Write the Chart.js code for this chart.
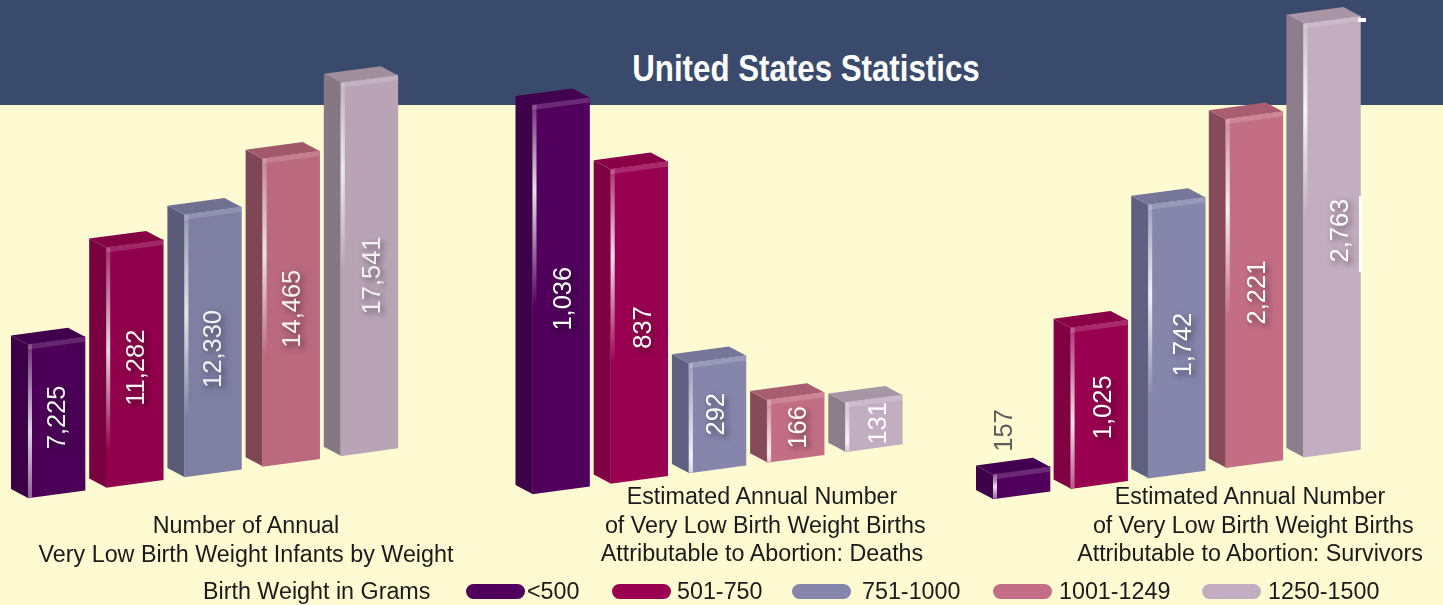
<!DOCTYPE html>
<html>
<head>
<meta charset="utf-8">
<title>United States Statistics</title>
<script src="https://cdn.jsdelivr.net/npm/chart.js@4/dist/chart.umd.min.js"></script>
<style>
  html, body { margin: 0; padding: 0; }
  body { width: 1443px; height: 605px; overflow: hidden; position: relative; background: #fefbd2;
         font-family: "Liberation Sans", Arial, sans-serif; color: #1a1a1a; }
  #band { position: absolute; left: 0; top: 0; width: 1443px; height: 105px; background: #3a4a6c; }
  #heading { position: absolute; left: 506px; top: 47px; width: 600px; text-align: center; color: #fff;
             font: bold 37px/44px "Liberation Sans", sans-serif; transform: scaleX(0.845); }
  canvas { position: absolute; left: 0; top: 0; }
  #infants { filter: brightness(0.95); }
  .caption { position: absolute; width: 500px; text-align: center; font-size: 23.3px; line-height: 28.6px; }
  .legend { position: absolute; top: 579px; font-size: 23.3px; line-height: 25px; white-space: nowrap; }
  .pill { position: absolute; top: 584px; width: 59px; height: 15px; border-radius: 8px; }
  .glitch { position: absolute; background: #fff; }
</style>
</head>
<body>
<div id="band"></div>
<div id="heading">United States Statistics</div>
<canvas id="infants" width="1443" height="605"></canvas>
<canvas id="deaths" width="1443" height="605"></canvas>
<canvas id="survivors" width="1443" height="605"></canvas>
<div class="glitch" style="left:1358px;top:18px;width:8px;height:4px"></div>
<div class="glitch" style="left:1359px;top:196px;width:3px;height:76px"></div>
<div class="caption" style="left:-4px;top:511px">Number of Annual<br>Very Low Birth Weight Infants by Weight</div>
<div class="caption" style="left:512px;top:482px">Estimated Annual Number<br>&nbsp;of Very Low Birth Weight Births<br>Attributable to Abortion: Deaths</div>
<div class="caption" style="left:1000px;top:482px">Estimated Annual Number<br>&nbsp;of Very Low Birth Weight Births<br>Attributable to Abortion: Survivors</div>
<div class="legend" style="left:203px">Birth Weight in Grams</div>
<div id="legend"></div>

<script>
const weightBands = ['<500', '501-750', '751-1000', '1001-1249', '1250-1500'];
const infantCounts = [7225, 11282, 12330, 14465, 17541];
const deathCounts = [1036, 837, 292, 166, 131];
const survivorCounts = [157, 1025, 1742, 2221, 2763];

const frontColors = ['#50005c', '#990050', '#8686ad', '#c46e85', '#c3adc0'];
const sideColors = ['#3e0049', '#7f0043', '#5f5f7f', '#864b5b', '#8c7d8b'];
const topColors = ['#430050', '#8a0048', '#76769a', '#a85d70', '#a895a5'];

const DEPTH_X = 17, DEPTH_Y = 9, BEVEL = 5, SHINE_W = 4;

// the bars are flat Chart.js bars, sheared upward, with side and top faces added around them
const bars3d = {
    id: 'bars3d',
    beforeDatasetDraw(chart, args, opts) {
        const ctx = chart.ctx;
        const els = args.meta.data;
        const x0 = els[0].x - els[0].width / 2;
        const lift = (x, y) => y - opts.slope * (x - x0);

        els.forEach((el, i) => {
            const l = el.x - el.width / 2, r = el.x + el.width / 2;
            ctx.fillStyle = sideColors[i];
            ctx.beginPath();
            ctx.moveTo(l, lift(l, el.y));
            ctx.lineTo(l, lift(l, el.base));
            ctx.lineTo(l - DEPTH_X, lift(l, el.base) - DEPTH_Y);
            ctx.lineTo(l - DEPTH_X, lift(l, el.y) - DEPTH_Y);
            ctx.closePath();
            ctx.fill();

            ctx.fillStyle = topColors[i];
            ctx.beginPath();
            ctx.moveTo(l, lift(l, el.y));
            ctx.lineTo(r, lift(r, el.y));
            ctx.lineTo(r - DEPTH_X, lift(r, el.y) - DEPTH_Y);
            ctx.lineTo(l - DEPTH_X, lift(l, el.y) - DEPTH_Y);
            ctx.closePath();
            ctx.fill();
        });

        ctx.save();
        ctx.transform(1, -opts.slope, 0, 1, 0, opts.slope * x0);
    },
    afterDatasetDraw(chart, args, opts) {
        const ctx = chart.ctx;
        const els = args.meta.data;
        const x0 = els[0].x - els[0].width / 2;

        els.forEach((el, i) => {
            const l = el.x - el.width / 2;
            ctx.fillStyle = 'rgba(255,255,255,0.16)';
            ctx.fillRect(l, el.y, el.width, BEVEL);

            // [peak, where it dies out, alpha left at that point]
            const [peak, end, tail] = opts.shine[i];
            const g = ctx.createLinearGradient(0, el.y, 0, el.base);
            g.addColorStop(0, 'rgba(255,255,255,0.2)');
            g.addColorStop(peak, 'rgba(255,255,255,0.88)');
            g.addColorStop(end, `rgba(255,255,255,${tail})`);
            g.addColorStop(1, `rgba(255,255,255,${tail})`);
            ctx.fillStyle = g;
            ctx.fillRect(l, el.y, SHINE_W, el.base - el.y);
        });
        ctx.restore();

        // value labels, turned to read upward
        const data = chart.data.datasets[0].data;
        els.forEach((el, i) => {
            const lift = y => y - opts.slope * (el.x - x0);
            const outside = opts.outside && opts.outside[i];
            const nudge = opts.nudge[i];
            ctx.save();
            if (outside) {
                ctx.translate(el.x + outside[0], lift(el.y) + outside[1]);
                ctx.fillStyle = '#5c5c5c';
            } else {
                ctx.translate(el.x + nudge[0], lift((el.y + el.base) / 2) + nudge[1]);
                ctx.fillStyle = '#fff';
                if (opts.shadow[i]) {
                    ctx.shadowColor = 'rgba(0,0,0,0.5)';
                    ctx.shadowBlur = 6;
                    ctx.shadowOffsetX = 3;
                    ctx.shadowOffsetY = 3;
                }
            }
            ctx.rotate(-Math.PI / 2);
            ctx.font = '25.5px "Liberation Sans", Arial, sans-serif';
            ctx.textAlign = 'center';
            ctx.textBaseline = 'middle';
            ctx.fillText(data[i].toLocaleString('en-US'), 0, 0);
            ctx.restore();
        });
    }
};

function initChart(canvasId, data, cfg) {
    new Chart(document.getElementById(canvasId), {
        type: 'bar',
        data: {
            labels: weightBands,
            datasets: [{
                data: data,
                backgroundColor: frontColors,
                barThickness: 57,
                clip: false,
            }]
        },
        options: {
            responsive: false,
            animation: false,
            layout: { padding: { left: cfg.left, right: 1443 - cfg.left - cfg.span, top: 0, bottom: 605 - cfg.base } },
            plugins: {
                legend: { display: false },
                tooltip: { enabled: false },
                bars3d: cfg
            },
            scales: {
                x: { display: false },
                y: { display: false, min: 0, max: cfg.max }
            }
        },
        plugins: [bars3d]
    });
}

initChart('infants', infantCounts, {
    left: 17.4, span: 391, base: 498, max: 23424, slope: 0.135,
    shine: [[0.57, 1, 0.4], [0.43, 0.85, 0], [0.38, 0.78, 0], [0.31, 0.65, 0], [0.24, 0.5, 0]],
    nudge: [[1, 0], [2, 4], [1, 7], [2, 0], [4, 10]],
    shadow: [true, true, true, true, true]
});
initChart('deaths', deathCounts, {
    left: 521.9, span: 391, base: 494, max: 1316, slope: 0.135,
    shine: [[0.22, 0.52, 0], [0.28, 0.62, 0], [0.85, 1, 0.7], [0.85, 1, 0.6], [0.8, 1, 0.3]],
    nudge: [[3, 3], [5, 5], [0, 0], [3, 0], [5, 0]],
    shadow: [true, true, true, true, false]
});
initChart('survivors', survivorCounts, {
    left: 982.7, span: 388, base: 499, max: 3182, slope: 0.135,
    shine: [[0.5, 1, 0.4], [0.59, 1, 0.35], [0.33, 0.71, 0], [0.26, 0.57, 0], [0.2, 0.45, 0]],
    nudge: [[0, 0], [5, 3], [7, 7], [4, 3], [9, -6]],
    outside: [[-17, -40]],
    shadow: [false, true, true, true, true]
});

const pillLeft = [466, 612, 792, 993, 1202];
const labelLeft = [527, 677, 862, 1059, 1268];
const legendBox = document.getElementById('legend');
weightBands.forEach((band, i) => {
    const pill = document.createElement('div');
    pill.className = 'pill';
    pill.style.left = pillLeft[i] + 'px';
    pill.style.background = frontColors[i];
    legendBox.appendChild(pill);
    const text = document.createElement('div');
    text.className = 'legend';
    text.style.left = labelLeft[i] + 'px';
    text.textContent = band;
    legendBox.appendChild(text);
});
</script>
</body>
</html>
